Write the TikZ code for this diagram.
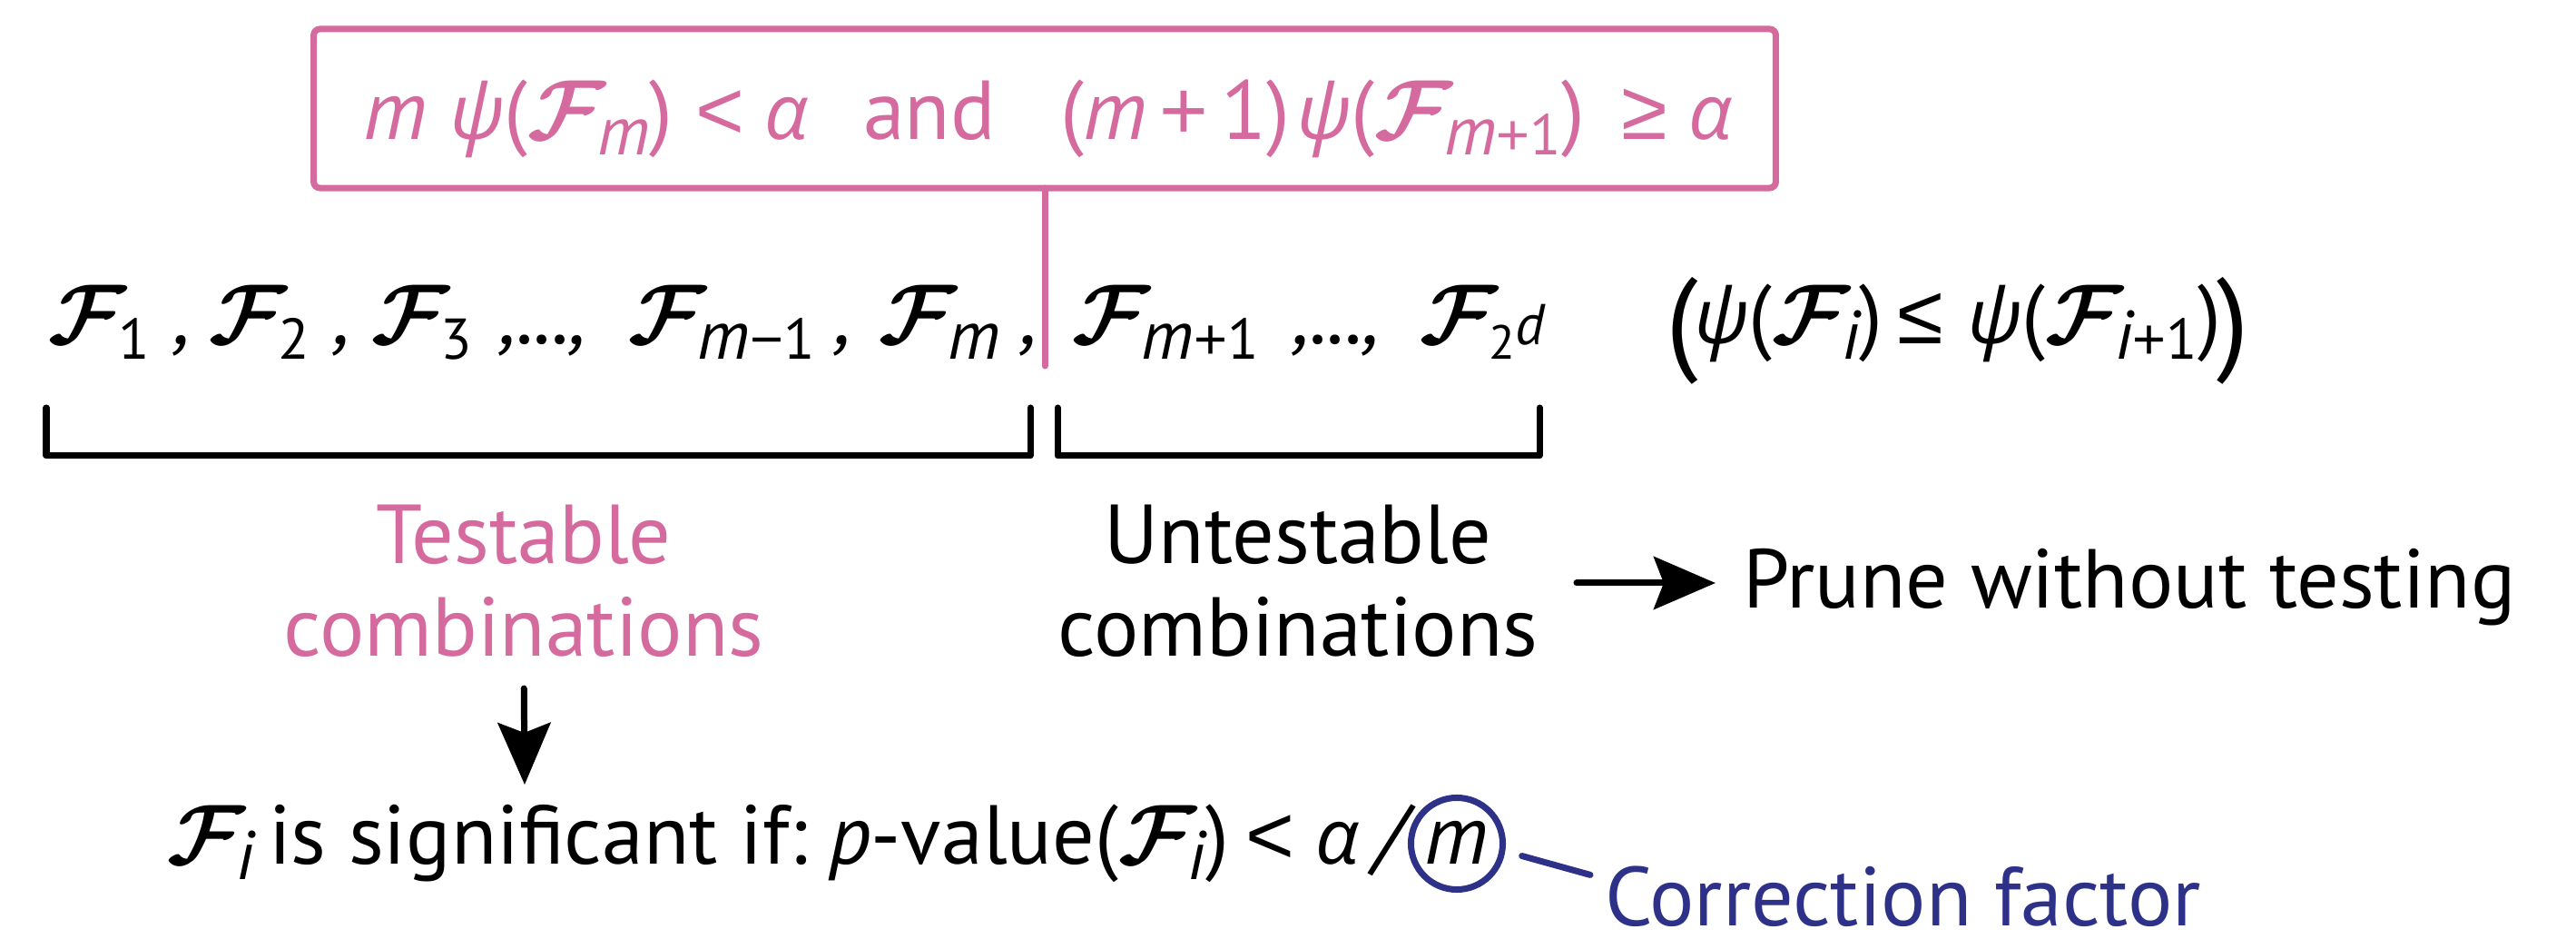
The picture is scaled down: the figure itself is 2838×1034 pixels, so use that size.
\documentclass[tikz,border=0pt]{standalone}
\usepackage{fontspec}
\setmainfont{PT Sans}
\newfontfamily\grk{Open Sans}[Scale=0.92]
\newfontfamily\sym{Liberation Sans}
\usetikzlibrary{arrows.meta,calc}
\definecolor{pinkc}{RGB}{212,106,157}
\definecolor{navyc}{RGB}{46,49,136}
\DeclareFontFamily{OMS}{mycal}{}
\DeclareFontShape{OMS}{mycal}{m}{n}{<-> cmbsy10}{}
\newcommand\mainsize{\fontsize{26.2pt}{32pt}\selectfont}
\newcommand\FF{{\fontsize{26.7pt}{32pt}\usefont{OMS}{mycal}{m}{n}F}}
\newcommand\Sb[1]{\raisebox{-0.18em}{#1}}
\newcommand\si{\fontsize{21.5pt}{21.5pt}\selectfont\itshape}
\newcommand\sd{\fontsize{18pt}{18pt}\selectfont\upshape}
\newcommand\gpsi{{\grk\itshape ψ}}
\newcommand\galpha{{\grk\itshape α}}
\newcommand\im{{\itshape m}}
\newcommand\bigp[1]{{\fontsize{36pt}{36pt}\selectfont #1}}
\tikzset{
  tok/.style={anchor=base west, inner sep=0pt, outer sep=0pt, font=\mainsize},
  ctok/.style={anchor=base, inner sep=0pt, outer sep=0pt, font=\mainsize},
  pinkline/.style={draw=pinkc, line width=0.07cm, line cap=round, line join=round},
  bracket/.style={draw=black, line width=0.07cm, line cap=round, line join=round},
  arr/.style={draw=black, line width=0.07cm, line cap=round,
    -{Stealth[length=0.68cm, width=0.58cm, inset=0.11cm]}},
  navyline/.style={draw=navyc, line width=0.07cm, line cap=round},
}
\begin{document}
\begin{tikzpicture}[x=0.01cm, y=-0.01cm]
\useasboundingbox (0,0) rectangle (2838,1034);
% condition box
\node[draw=pinkc, line width=0.07cm, rounded corners=2pt, minimum width=16.10cm,
  minimum height=1.75cm, inner sep=0pt, outer sep=0pt] (cond) at (1151,119.5) {};
\begin{scope}[every node/.append style={text=pinkc}]
\node[tok] (b1) at (400,154) {\im};
\node[tok] (b2) at (495,154) {\gpsi(\FF\Sb{\si m})};
\node[tok] (b3) at (766,154) {{\sym <}};
\node[tok] (b4) at (842,154) {\galpha};
\node[tok] (b5) at (951,154) {and};
\node[tok] (b6) at (1168,154) {(\im\hspace{0.15em}{\sym +}\hspace{0.15em}1)};
\node[tok] (b7) at (1428,154) {\gpsi(\FF\Sb{{\si m}{\sd{\sym +}1}})};
\node[tok] (b8) at (1786,154) {{\sym ≥}};
\node[tok] (b9) at (1860,154) {\galpha};
\end{scope}
\coordinate (split) at (1151,403);
\draw[pinkline] (cond.south) -- (split);
% row of families
\node[tok] (r1) at (54,379) {\FF\Sb{\sd 1}\hspace{0.3em}{\itshape ,}};
\node[tok] (r2) at (230,379) {\FF\Sb{\sd 2}\hspace{0.3em}{\itshape ,}};
\node[tok] (r3) at (409,379) {\FF\Sb{\sd 3}};
\node[tok] (r4) at (551,379) {{\itshape ,...,}};
\node[tok] (r5) at (692,379) {\FF\Sb{{\si m}{\sd{\sym −}1}}\hspace{0.25em}{\itshape ,}};
\node[tok] (r6) at (968,379) {\FF\Sb{\si m}\hspace{0.25em}{\itshape ,}};
\node[tok] (r7) at (1181,379) {\FF\Sb{{\si m}{\sd{\sym +}1}}};
\node[tok] (r8) at (1425,379) {{\itshape ,...,}};
\node[tok] (r9) at (1564,379) {\FF\Sb{{\fontsize{15pt}{15pt}\selectfont 2}\raisebox{0.17em}{\fontsize{18pt}{18pt}\selectfont\itshape d}}};
\node[tok] (r10) at (1835,396) {\bigp{(}};
\node[tok] (r11) at (1866,379) {\gpsi(\FF\Sb{\si i})};
\node[tok] (r12) at (2090,379) {{\sym ≤}};
\node[tok] (r13) at (2167,379) {\gpsi(\FF\Sb{{\si i}{\sd{\sym +}1}})};
\node[tok] (r14) at (2442,396) {\bigp{)}};
% brackets
\draw[bracket] (51,449) |- (1135,502) -- (1135,449);
\draw[bracket] (1165,449) |- (1696,502) -- (1696,449);
% labels
\node[ctok, text=pinkc] (test1) at (577,621) {Testable};
\node[ctok, text=pinkc] (test2) at (577,723) {combinations};
\node[ctok] (untest1) at (1430,621) {Untestable};
\node[ctok] (untest2) at (1430,723) {combinations};
\node[tok] (prune) at (1920,670) {Prune without testing};
\coordinate (arrs) at (1737,642);
\draw[arr] (arrs) -- ([xshift=-0.3cm]prune.west |- arrs);
\coordinate (sigtop) at (578,864);
\draw[arr, shorten <=0.34cm] (test2.south) -- (sigtop);
% significance line
\node[tok] (s1) at (184,952) {\FF\Sb{\si i}};
\node[tok] (s2) at (296,952) {is significant if:};
\node[tok] (s3) at (913,952) {{\itshape p}-value(\FF\Sb{\si i})};
\node[tok] (s4) at (1372,952) {{\sym <}};
\node[tok] (s5) at (1449,952) {\galpha};
\node[tok] (s6) at (1515,952) {{\itshape /}};
\node[ctok] (mtxt) at (1605,952) {\im};
\node[circle, draw=navyc, line width=0.07cm, minimum size=1.01cm, inner sep=0pt] (mcirc) at (1605,929) {};
\node[tok, text=navyc, text depth=0pt] (corr) at (1768,1020) {Correction factor};
\draw[navyline, shorten <=0.19cm] (mcirc.-9) -- ([xshift=-0.16cm, yshift=-0.09cm]corr.north west);
\end{tikzpicture}
\end{document}
